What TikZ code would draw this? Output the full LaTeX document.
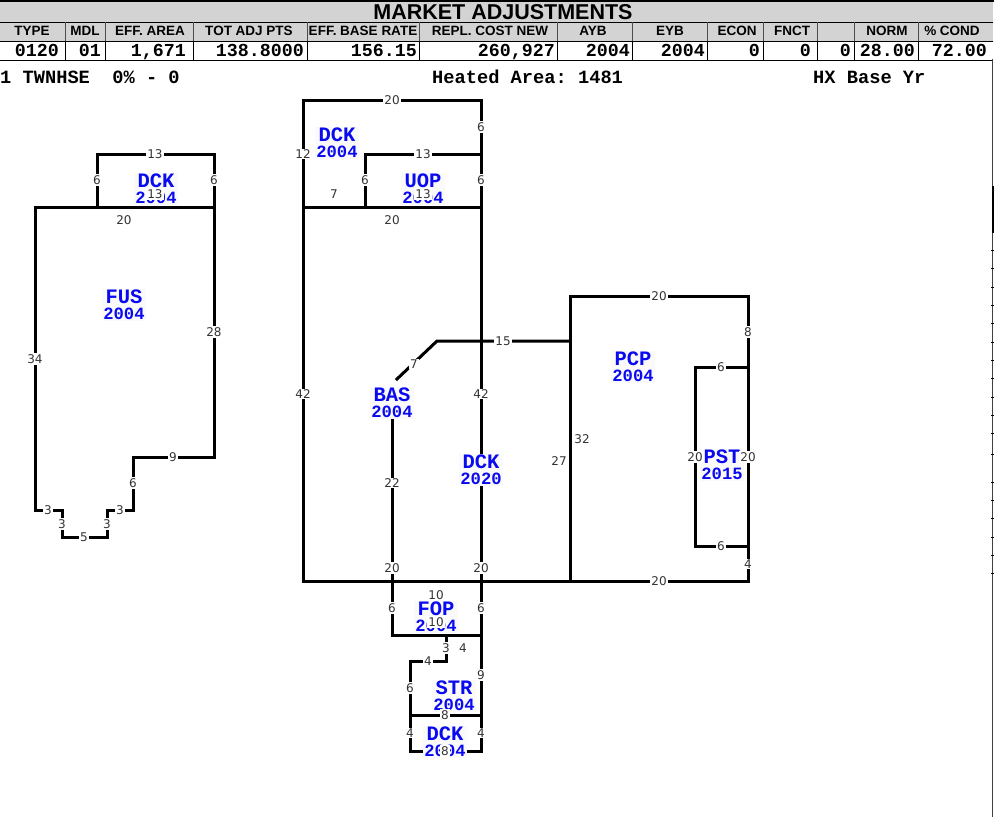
\documentclass[tikz,border=0pt]{standalone}
\usepackage{fontspec}
\setmainfont{Liberation Sans}
\newfontfamily\cardmono{Liberation Mono}
\newfontfamily\dimfont{DejaVu Sans}
\usetikzlibrary{positioning}
\definecolor{bandgray}{HTML}{D3D3D3}
\definecolor{roomblue}{HTML}{0A0AF0}
\definecolor{dimgray}{HTML}{333333}
\definecolor{tagwhite}{HTML}{FAFAFA}
\newcommand{\roomtag}[2]{{\fontsize{20.5}{16.4}\selectfont #1}\\{#2}}

\begin{document}
\begin{tikzpicture}[x=1pt, y=-1pt, line cap=rect]
    \tikzstyle{head}=[inner sep=0pt, font=\bfseries\fontsize{13.5}{14}\selectfont]
    \tikzstyle{val}=[inner sep=0pt, anchor=east, text height=11pt, text depth=0pt, font=\cardmono\bfseries\fontsize{18.3}{18}\selectfont]
    \tikzstyle{info}=[inner sep=0pt, anchor=west, text height=11pt, text depth=0pt, font=\cardmono\bfseries\fontsize{18.7}{18}\selectfont]
    \tikzstyle{wall}=[line width=3pt, line join=miter]
    \tikzstyle{room}=[fill=tagwhite, text=roomblue, inner sep=1pt, align=center, font=\cardmono\bfseries\fontsize{17.2}{16.4}\selectfont]
    \tikzstyle{dim}=[fill=white, text=dimgray, inner sep=1pt, font=\dimfont\fontsize{12}{12}\selectfont]
    \useasboundingbox (0,0) rectangle (994,817);

    % Header bands
    \fill[bandgray] (0,2) rectangle (993,41);
    \draw[line width=2.4pt] (0,1) -- (994,1);
    \draw[line width=0.9pt] (0,22) -- (993,22);
    \draw[line width=0.9pt] (0,41) -- (993,41);
    \draw[line width=0.9pt] (0,60.5) -- (993,60.5);
    \node[inner sep=0pt, font=\bfseries\fontsize{21.5}{22}\selectfont] (title) at (503,12) {MARKET ADJUSTMENTS};

    % Columns
    \foreach \c in {65,105,193,307,419,557,632,707,763,817,854,918} {
        \draw[line width=0.9pt, black!70] (\c,22) -- (\c,41);
        \draw[line width=0.9pt] (\c,41) -- (\c,60);
    }
    \node[head] (h1) at (32,31) {TYPE};
    \node[head] (h2) at (85,31) {MDL};
    \node[head] (h3) at (150,31) {EFF. AREA};
    \node[head] (h4) at (249,31) {TOT ADJ PTS};
    \node[head] (h5) at (363,31) {EFF. BASE RATE};
    \node[head] (h6) at (490,31) {REPL. COST NEW};
    \node[head] (h7) at (593,31) {AYB};
    \node[head] (h8) at (670,31) {EYB};
    \node[head] (h9) at (737,31) {ECON};
    \node[head] (h10) at (792,31) {FNCT};
    \node[head] (h11) at (887,31) {NORM};
    \node[head] (h12) at (952,31) {\% COND};

    \node[val] (v1) at (59,50.5) {0120};
    \node[val] (v2) at (101,50.5) {01};
    \node[val] (v3) at (186,50.5) {1,671};
    \node[val] (v4) at (304,50.5) {138.8000};
    \node[val] (v5) at (417,50.5) {156.15};
    \node[val] (v6) at (555,50.5) {260,927};
    \node[val] (v7) at (630,50.5) {2004};
    \node[val] (v8) at (705,50.5) {2004};
    \node[val] (v9) at (760,50.5) {0};
    \node[val] (v10) at (811,50.5) {0};
    \node[val] (v11) at (851,50.5) {0};
    \node[val] (v12) at (915,50.5) {28.00};
    \node[val] (v13) at (987,50.5) {72.00};

    \node[info] (i1) at (0,78) {1 TWNHSE~~0\% - 0};
    \node[info] (i2) at (432,78) {\frenchspacing Heated Area: 1481};
    \node[info] (i3) at (813,78) {HX Base Yr};

    % Right edge
    \draw[line width=1.2pt, black!75] (992.8,60) -- (992.8,817);
    \draw[line width=2pt] (992.8,187) -- (992.8,232);
    \foreach \t in {250,268,287,305,323,342,360,378,397,415,433,454,482,500,518,537,555,573} {
        \draw[line width=0.8pt] (991,\t) -- (994,\t);
    }

    % Walls
    \draw[wall] (97,207) -- (97,154) -- (214,154) -- (214,457) -- (133,457) -- (133,510) -- (107,510) -- (107,537) -- (62,537) -- (62,510) -- (35,510) -- (35,207) -- (214,207);
    \draw[wall] (303,581) -- (303,100) -- (481,100) -- (481,751) -- (410,751) -- (410,661) -- (446,661) -- (446,635);
    \draw[wall] (303,207) -- (481,207);
    \draw[wall] (365,207) -- (365,154) -- (481,154);
    \draw[wall] (303,581) -- (748,581) -- (748,296) -- (570,296) -- (570,581);
    \draw[wall] (397,379) -- (437,341) -- (570,341);
    \draw[wall] (392,412) -- (392,635) -- (481,635);
    \draw[wall] (410,715) -- (481,715);
    \draw[wall] (748,367) -- (695,367) -- (695,546) -- (748,546);

    % Rooms
    \node[room] (dck1) at (156,189) {\roomtag{DCK}{2004}};
    \node[room] (fus) at (124,305) {\roomtag{FUS}{2004}};
    \node[room] (dck2) at (337,143) {\roomtag{DCK}{2004}};
    \node[room] (uop) at (423,189) {\roomtag{UOP}{2004}};
    \node[room] (bas) at (392,403) {\roomtag{BAS}{2004}};
    \node[room] (dck3) at (481,470) {\roomtag{DCK}{2020}};
    \node[room] (pcp) at (633,367) {\roomtag{PCP}{2004}};
    \node[room] (pst) at (722,465) {\roomtag{PST}{2015}};
    \node[room] (fop) at (436,617) {\roomtag{FOP}{2004}};
    \node[room] (str) at (454,696) {\roomtag{STR}{2004}};
    \node[room] (dck4) at (445,742) {\roomtag{DCK}{2004}};

    % Dimensions
    \foreach \x/\y/\d in {155/154/13, 155/194/13, 97/180/6, 214/180/6, 124/220/20, 35/359/34, 214/332/28,
        173/457/9, 133/483/6, 48/510/3, 62/524/3, 84/537/5, 107/524/3, 120/510/3,
        392/100/20, 481/127/6, 303/154/12, 423/154/13, 365/180/6, 481/180/6, 334/194/7, 423/194/13,
        392/220/20, 303/394/42, 481/394/42, 414/364/7, 503/341/15, 392/483/22, 392/568/20, 481/568/20,
        436/595/10, 392/608/6, 481/608/6, 436/622/10, 446/648/3, 463/648/4, 428/661/4, 481/675/9,
        410/688/6, 445/715/8, 410/733/4, 481/733/4, 445/751/8,
        659/296/20, 748/332/8, 721/367/6, 582/439/32, 559/461/27, 695/457/20, 748/457/20,
        721/546/6, 748/564/4, 659/581/20} {
        \node[dim] (d\x-\y) at (\x,\y) {\d};
    }
\end{tikzpicture}
\end{document}
